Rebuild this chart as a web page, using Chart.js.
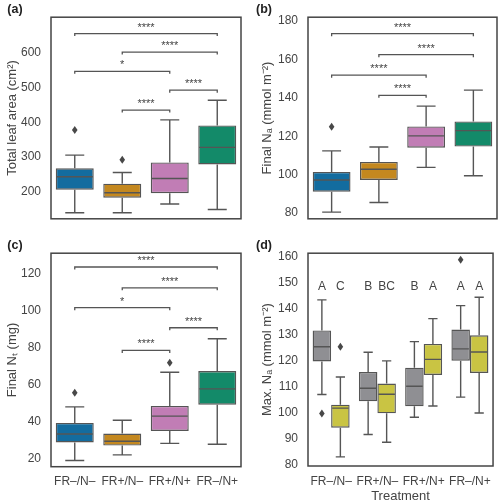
<!DOCTYPE html>
<html>
<head>
<meta charset="utf-8">
<script src="https://cdn.jsdelivr.net/npm/chart.js@4.4.0/dist/chart.umd.min.js"></script>
<style>
  html, body { margin: 0; padding: 0; background: #fff; overflow: hidden; }
  canvas { position: absolute; }
</style>
</head>
<body>
<canvas id="chartA" width="249" height="236" style="left:0;top:0"></canvas>
<canvas id="chartB" width="250" height="236" style="left:249px;top:0"></canvas>
<canvas id="chartC" width="249" height="270" style="left:0;top:236px"></canvas>
<canvas id="chartD" width="250" height="270" style="left:249px;top:236px"></canvas>
<script>
const treatments = ['FR–/N–', 'FR+/N–', 'FR+/N+', 'FR–/N+'];
const treatmentColors = ['#136c9f', '#c4881f', '#c17db5', '#138a69'];

// (a) total leaf area
const areaLow = [141, 141, 166, 150];
const areaQ1 = [207, 184, 197, 279];
const areaMedian = [244, 198, 239, 328];
const areaQ3 = [268, 224, 285, 391];
const areaHigh = [306, 256, 407, 463];
const areaOutliers = [[378], [293], [], []];
const areaTicks = [200, 300, 400, 500, 600];

// (b) final Na
const naLow = [80.5, 85.5, 103.8, 99.4];
const naQ1 = [91.1, 97.2, 114, 114.6];
const naMedian = [97.2, 102.8, 120.2, 122.9];
const naQ3 = [101.4, 106.6, 125.1, 127.7];
const naHigh = [112.4, 114.4, 135.7, 144];
const naOutliers = [[125], [], [], []];
const naTicks = [80, 100, 120, 140, 160, 180];

// (c) final Nt
const ntLow = [18.8, 21.8, 28.1, 27.6];
const ntQ1 = [28.6, 26.9, 34.8, 49.1];
const ntMedian = [33.2, 29.2, 42.9, 57.7];
const ntQ3 = [39.2, 33.4, 48.4, 67.4];
const ntHigh = [47.9, 40.6, 66.7, 84.9];
const ntOutliers = [[55.6], [], [71.9], []];
const ntTicks = [20, 40, 60, 80, 100, 120];

// significance brackets: pair of treatments, height, label
const areaPairs = [[0, 3], [1, 3], [0, 2], [2, 3], [1, 2]];
const areaLevels = [654, 601, 546, 492, 435];
const areaStars = ['****', '****', '*', '****', '****'];
const naPairs = [[0, 3], [1, 3], [0, 2], [1, 2]];
const naLevels = [173.4, 162.5, 151.8, 141.3];
const naStars = ['****', '****', '****', '****'];
const ntPairs = [[0, 3], [1, 3], [0, 2], [2, 3], [1, 2]];
const ntLevels = [123.9, 112.6, 101.8, 90.9, 78.6];
const ntStars = ['****', '****', '*', '****', '****'];

// (d) max Na, two groups per treatment
const grayLow = [107, 91.7, 98.3, 106];
const grayQ1 = [119.7, 104.4, 102.5, 120];
const grayMedian = [125.3, 109.4, 110.2, 124.5];
const grayQ3 = [131.6, 115.6, 117.3, 131.9];
const grayHigh = [143.3, 123.2, 127.3, 141.1];
const grayOutliers = [[99.7], [], [], [158.7]];
const grayLetters = ['A', 'B', 'B', 'A'];
const yellowLow = [83.1, 88.7, 102.6, 99.9];
const yellowQ1 = [94.3, 99.8, 114.5, 115.3];
const yellowMedian = [101.8, 107.1, 120.5, 123.3];
const yellowQ3 = [103.1, 111.2, 126.4, 129.7];
const yellowHigh = [113.7, 119.9, 136.1, 144.3];
const yellowOutliers = [[125.3], [], [], []];
const yellowLetters = ['C', 'BC', 'A', 'A'];
const maxTicks = [80, 90, 100, 110, 120, 130, 140, 150, 160];
const letterLevel = 148.4;

const FONT = "'Liberation Sans', Arial, sans-serif";
const TEXT = '#444';
const EDGE = '#555';

function boxStats(low, q1, med, q3, high, out) {
  return low.map((v, i) => ({ low: v, q1: q1[i], med: med[i], q3: q3[i], high: high[i], out: out[i] }));
}

function boxDataset(label, color, low, q1, med, q3, high, out, letters) {
  return {
    label: label,
    data: q1.map((v, i) => [v, q3[i]]),
    backgroundColor: color,
    borderColor: EDGE,
    borderWidth: 1.4,
    borderSkipped: false,
    stats: boxStats(low, q1, med, q3, high, out),
    letters: letters
  };
}

// draws whiskers, medians, outliers, brackets, frame and panel letter
function overlay(panel, brackets) {
  return {
    id: 'overlay' + panel,
    afterDatasetsDraw(chart) {
      const ctx = chart.ctx, y = chart.scales.y;
      ctx.save();
      ctx.strokeStyle = EDGE;
      ctx.lineWidth = 1.4;
      chart.data.datasets.forEach((ds, di) => {
        chart.getDatasetMeta(di).data.forEach((bar, i) => {
          const s = ds.stats[i];
          const cap = bar.width / 4, half = bar.width / 2;
          const yl = y.getPixelForValue(s.low), yh = y.getPixelForValue(s.high);
          const y1 = y.getPixelForValue(s.q1), y3 = y.getPixelForValue(s.q3);
          const ym = y.getPixelForValue(s.med);
          ctx.beginPath();
          ctx.moveTo(bar.x, y1); ctx.lineTo(bar.x, yl);
          ctx.moveTo(bar.x - cap, yl); ctx.lineTo(bar.x + cap, yl);
          ctx.moveTo(bar.x, y3); ctx.lineTo(bar.x, yh);
          ctx.moveTo(bar.x - cap, yh); ctx.lineTo(bar.x + cap, yh);
          ctx.moveTo(bar.x - half + 1, ym); ctx.lineTo(bar.x + half - 1, ym);
          ctx.stroke();
          ctx.fillStyle = '#484848';
          s.out.forEach(v => {
            const py = y.getPixelForValue(v);
            ctx.beginPath();
            ctx.moveTo(bar.x, py - 4); ctx.lineTo(bar.x + 2.8, py);
            ctx.lineTo(bar.x, py + 4); ctx.lineTo(bar.x - 2.8, py);
            ctx.closePath();
            ctx.fill();
          });
          if (ds.letters) {
            ctx.fillStyle = TEXT;
            ctx.font = '12px ' + FONT;
            ctx.textAlign = 'center';
            ctx.textBaseline = 'middle';
            ctx.fillText(ds.letters[i], bar.x, y.getPixelForValue(letterLevel));
          }
        });
      });
      ctx.restore();
    },
    afterDraw(chart) {
      const ctx = chart.ctx, a = chart.chartArea;
      const x = chart.scales.x, y = chart.scales.y;
      ctx.save();
      if (brackets) {
        ctx.strokeStyle = EDGE;
        ctx.lineWidth = 1.3;
        ctx.fillStyle = TEXT;
        ctx.font = '11px ' + FONT;
        ctx.textAlign = 'center';
        ctx.textBaseline = 'alphabetic';
        brackets.pairs.forEach((p, k) => {
          const x0 = x.getPixelForValue(p[0]), x1 = x.getPixelForValue(p[1]);
          const py = y.getPixelForValue(brackets.levels[k]);
          ctx.beginPath();
          ctx.moveTo(x0, py + 2.5); ctx.lineTo(x0, py);
          ctx.lineTo(x1, py); ctx.lineTo(x1, py + 2.5);
          ctx.stroke();
          ctx.fillText(brackets.labels[k], (x0 + x1) / 2, py - 3);
        });
      }
      ctx.strokeStyle = '#444';
      ctx.lineWidth = 1.5;
      ctx.strokeRect(a.left, a.top, a.right - a.left, a.bottom - a.top);
      ctx.fillStyle = '#222';
      ctx.font = 'bold 12.5px ' + FONT;
      ctx.textAlign = 'center';
      ctx.textBaseline = 'middle';
      ctx.fillText(panel, 15, 10);
      ctx.restore();
    }
  };
}

function makePanel(id, o) {
  return new Chart(document.getElementById(id), {
    type: 'bar',
    data: { labels: treatments, datasets: o.datasets },
    options: {
      responsive: false,
      animation: false,
      layout: { padding: o.padding },
      datasets: { bar: { barPercentage: o.barPct, categoryPercentage: o.catPct } },
      plugins: { legend: { display: false }, tooltip: { enabled: false } },
      scales: {
        x: {
          display: o.showX,
          grid: { display: false, drawTicks: false },
          border: { display: false },
          ticks: { color: TEXT, font: { size: 12, family: FONT }, padding: 8, maxRotation: 0, autoSkip: false },
          title: { display: !!o.xTitle, text: o.xTitle, color: TEXT, font: { size: 13, family: FONT }, padding: { top: 0, bottom: 2 } },
          afterFit: axis => { axis.height = o.xHeight; }
        },
        y: {
          min: o.min,
          max: o.max,
          grid: { display: false, drawTicks: false },
          border: { display: false },
          ticks: { color: TEXT, font: { size: 12, family: FONT }, padding: 10 },
          title: { display: true, text: o.yTitle, color: TEXT, font: { size: 13, family: FONT }, padding: { top: o.titlePad, bottom: 0 } },
          afterBuildTicks: axis => { axis.ticks = o.ticks.map(v => ({ value: v })); },
          afterFit: axis => { axis.width = o.yWidth; }
        }
      }
    },
    plugins: [overlay(o.panel, o.brackets)]
  });
}

function singleSeries(low, q1, med, q3, high, out) {
  return [boxDataset('Treatment', treatmentColors, low, q1, med, q3, high, out, null)];
}

makePanel('chartA', {
  panel: '(a)',
  datasets: singleSeries(areaLow, areaQ1, areaMedian, areaQ3, areaHigh, areaOutliers),
  brackets: { pairs: areaPairs, levels: areaLevels, labels: areaStars },
  padding: { left: 0, top: 5, right: 8, bottom: 7 },
  barPct: 0.8, catPct: 1,
  showX: false, xHeight: 0,
  min: 123.5, max: 701, ticks: areaTicks,
  yTitle: 'Total leaf area (cm²)', titlePad: 4.2, yWidth: 51
});

makePanel('chartB', {
  panel: '(b)',
  datasets: singleSeries(naLow, naQ1, naMedian, naQ3, naHigh, naOutliers),
  brackets: { pairs: naPairs, levels: naLevels, labels: naStars },
  padding: { left: 0, top: 5, right: 2, bottom: 7 },
  barPct: 0.8, catPct: 1,
  showX: false, xHeight: 0,
  min: 77, max: 182, ticks: naTicks,
  yTitle: 'Final Nₐ (mmol m⁻²)', titlePad: 10.2, yWidth: 59
});

makePanel('chartC', {
  panel: '(c)',
  datasets: singleSeries(ntLow, ntQ1, ntMedian, ntQ3, ntHigh, ntOutliers),
  brackets: { pairs: ntPairs, levels: ntLevels, labels: ntStars },
  padding: { left: 0, top: 11.5, right: 8, bottom: 0 },
  barPct: 0.8, catPct: 1,
  showX: true, xHeight: 39.3,
  min: 15.4, max: 131.4, ticks: ntTicks,
  yTitle: 'Final Nₜ (mg)', titlePad: 4.2, yWidth: 51
});

makePanel('chartD', {
  panel: '(d)',
  datasets: [
    boxDataset('Gray', '#8f8f93', grayLow, grayQ1, grayMedian, grayQ3, grayHigh, grayOutliers, grayLetters),
    boxDataset('Yellow', '#c9c443', yellowLow, yellowQ1, yellowMedian, yellowQ3, yellowHigh, yellowOutliers, yellowLetters)
  ],
  brackets: null,
  padding: { left: 0, top: 11.5, right: 2, bottom: 0 },
  barPct: 1, catPct: 0.8,
  showX: true, xHeight: 40, xTitle: 'Treatment',
  min: 79.6, max: 161.2, ticks: maxTicks,
  yTitle: 'Max. Nₐ (mmol m⁻²)', titlePad: 10.2, yWidth: 59
});
</script>
</body>
</html>
